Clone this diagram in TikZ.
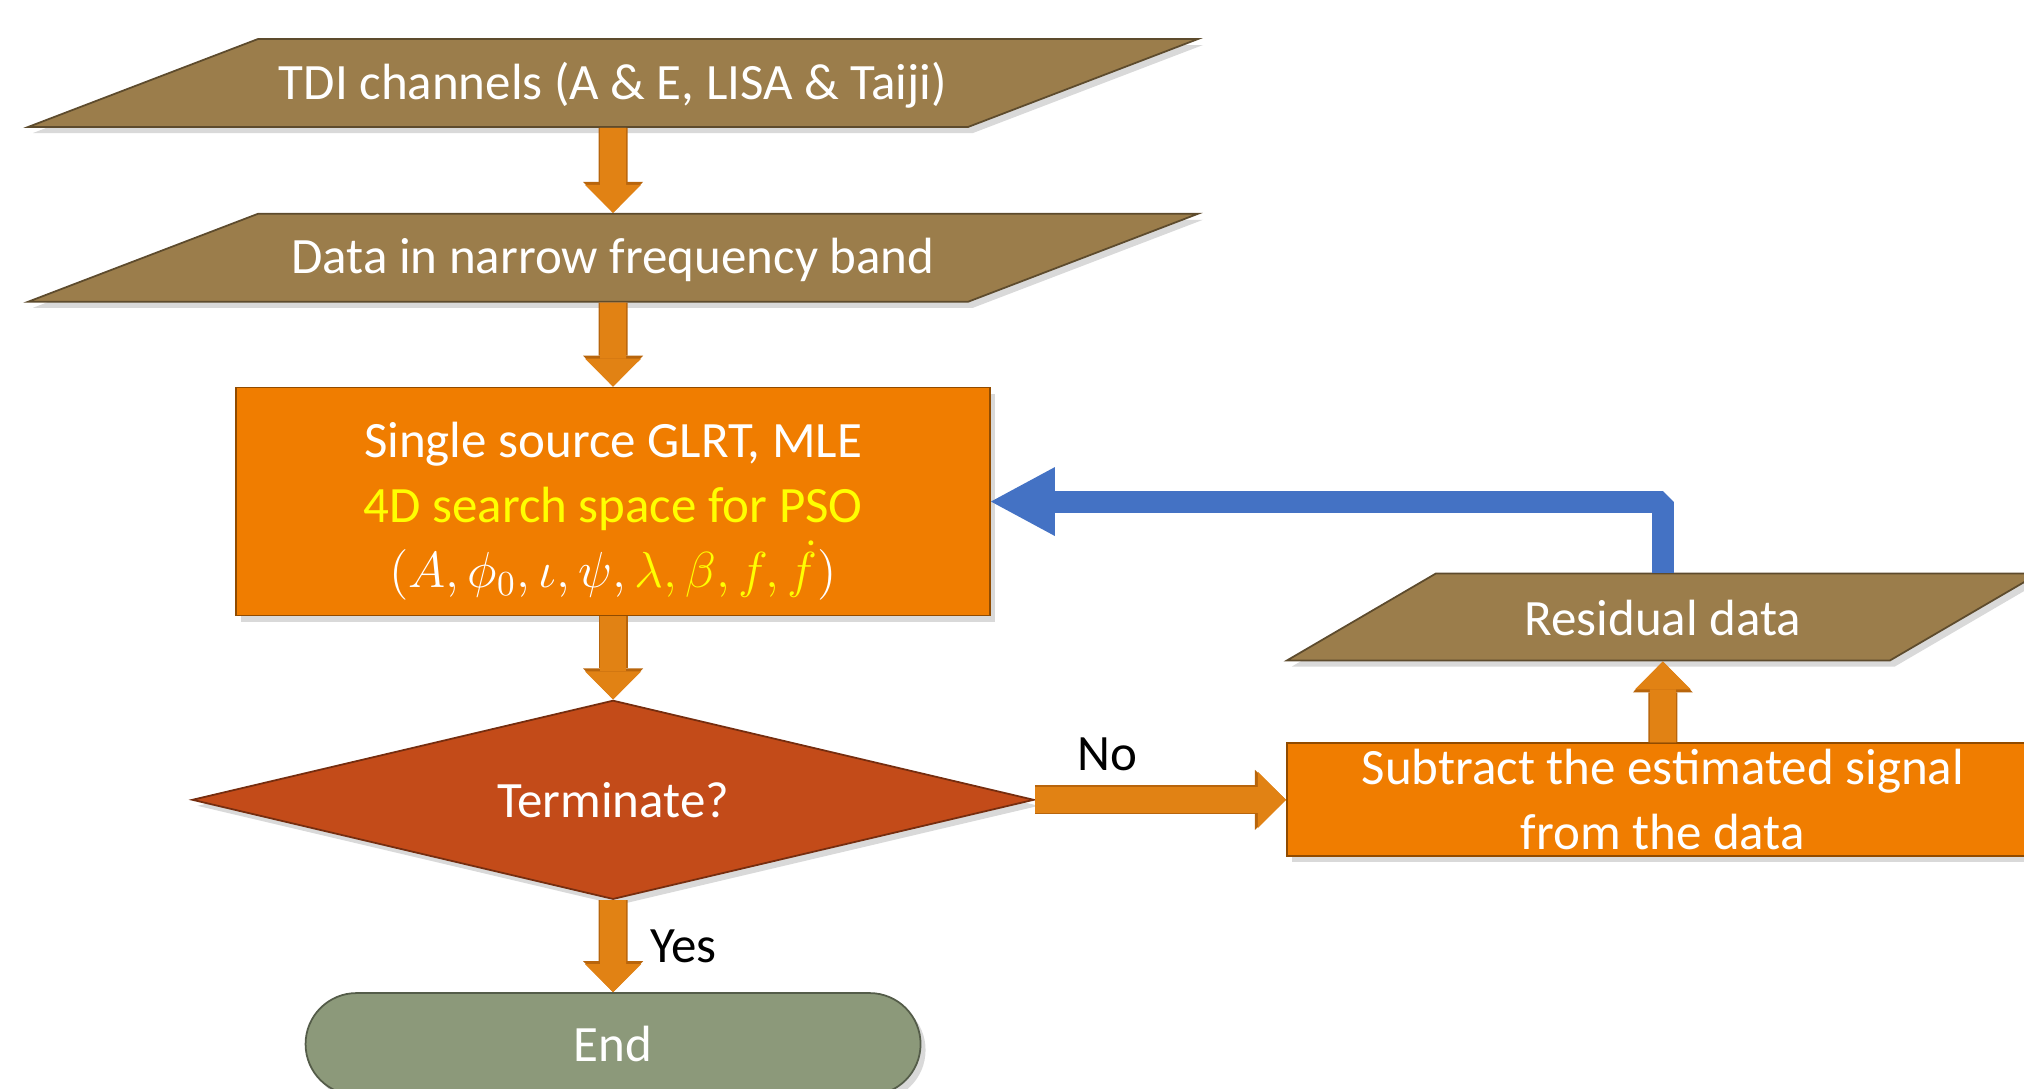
\documentclass[tikz,border=0pt]{standalone}
\usepackage{fontspec}
\setmainfont{Carlito}
\usetikzlibrary{arrows.meta, shapes.geometric, shapes.misc, positioning, shadows}
\definecolor{datafill}{HTML}{9B7D4B}
\definecolor{procfill}{HTML}{F07D00}
\definecolor{testfill}{HTML}{C34B19}
\definecolor{endfill}{HTML}{8C997A}
\definecolor{flowfill}{HTML}{E18214}
\definecolor{flowedge}{HTML}{B8650C}
\definecolor{backblue}{HTML}{4472C4}
\definecolor{hiyellow}{HTML}{FFFF00}
\tikzset{
  base/.style = {line width=0.5pt, text=white, font=\fontsize{14.5}{18.5}\selectfont,
                 align=flush center, inner sep=0pt,
                 drop shadow={shadow xshift=0.5mm, shadow yshift=-0.6mm, opacity=0.3}},
  flow/.style = {draw=flowfill, line width=2.6mm,
                 -{Triangle[width=5.6mm, length=2.8mm, line width=0pt]},
                 preaction={draw=flowedge, line width=2.9mm,
                            -{Triangle[width=6.0mm, length=3.1mm, line width=0pt]}}},
  feedback/.style = {draw=backblue, line width=2.2mm, line join=bevel,
                     -{Triangle[width=6.9mm, length=6.4mm, line width=0pt]}},
  answer/.style = {text=black, font=\fontsize{14.5}{18}\selectfont, inner sep=0pt},
}
\begin{document}
\begin{tikzpicture}[
    datain/.style   = {base, trapezium, fill=datafill, draw=datafill!60!black},
    wide/.style     = {datain, trapezium left angle=20.94, trapezium right angle=159.06,
                       text width=7.10cm, text height=0.60cm, text depth=0.28cm},
    process/.style  = {base, rectangle, fill=procfill, draw=procfill!60!black},
    decision/.style = {base, diamond, fill=testfill, draw=testfill!60!black, aspect=4.23,
                       minimum width=8.42cm, minimum height=1.99cm},
    terminal/.style = {base, rounded rectangle, fill=endfill, draw=endfill!60!black,
                       minimum width=6.15cm, minimum height=1.02cm},
  ]
  \useasboundingbox (0,0) rectangle (20.24,-10.88);

  \node[wide] (tdi) at (6.13,-0.83) {TDI channels (A \& E, LISA \& Taiji)};
  \node[wide, below=0.85cm of tdi] (band) {Data in narrow frequency band};
  \node[process, minimum width=7.54cm, minimum height=2.28cm, below=0.84cm of band] (glrt)
        {\rule{0pt}{0.55cm}Single source GLRT, MLE\\ \textcolor{hiyellow}{4D search space for PSO}\\
         $(A,\phi_0,\iota,\psi,\textcolor{hiyellow}{\lambda,\beta,f,\dot f})$};
  \node[decision, below=0.83cm of glrt] (term) {Terminate?};
  \node[terminal, below=0.92cm of term] (stop) {End};

  \node[process, minimum width=7.52cm, minimum height=1.13cm, right=2.51cm of term] (subtract)
        {Subtract the estimated signal\\from the data};
  \node[datain, trapezium left angle=30.28, trapezium right angle=149.72,
        text width=4.54cm, text height=0.62cm, text depth=0.25cm,
        above=0.81cm of subtract] (resid) {Residual data};

  \draw[flow] (tdi) -- (band);
  \draw[flow] (band) -- (glrt);
  \draw[flow] (glrt) -- (term);
  \draw[flow] (term) -- (stop) node[answer, midway, right=0.24cm] {Yes};
  \draw[flow] (term) -- (subtract) node[answer, pos=0.29, above=0.16cm] {No};
  \draw[flow] (subtract) -- (resid);
  \draw[feedback] (resid.north) |- (glrt.east);
\end{tikzpicture}
\end{document}
